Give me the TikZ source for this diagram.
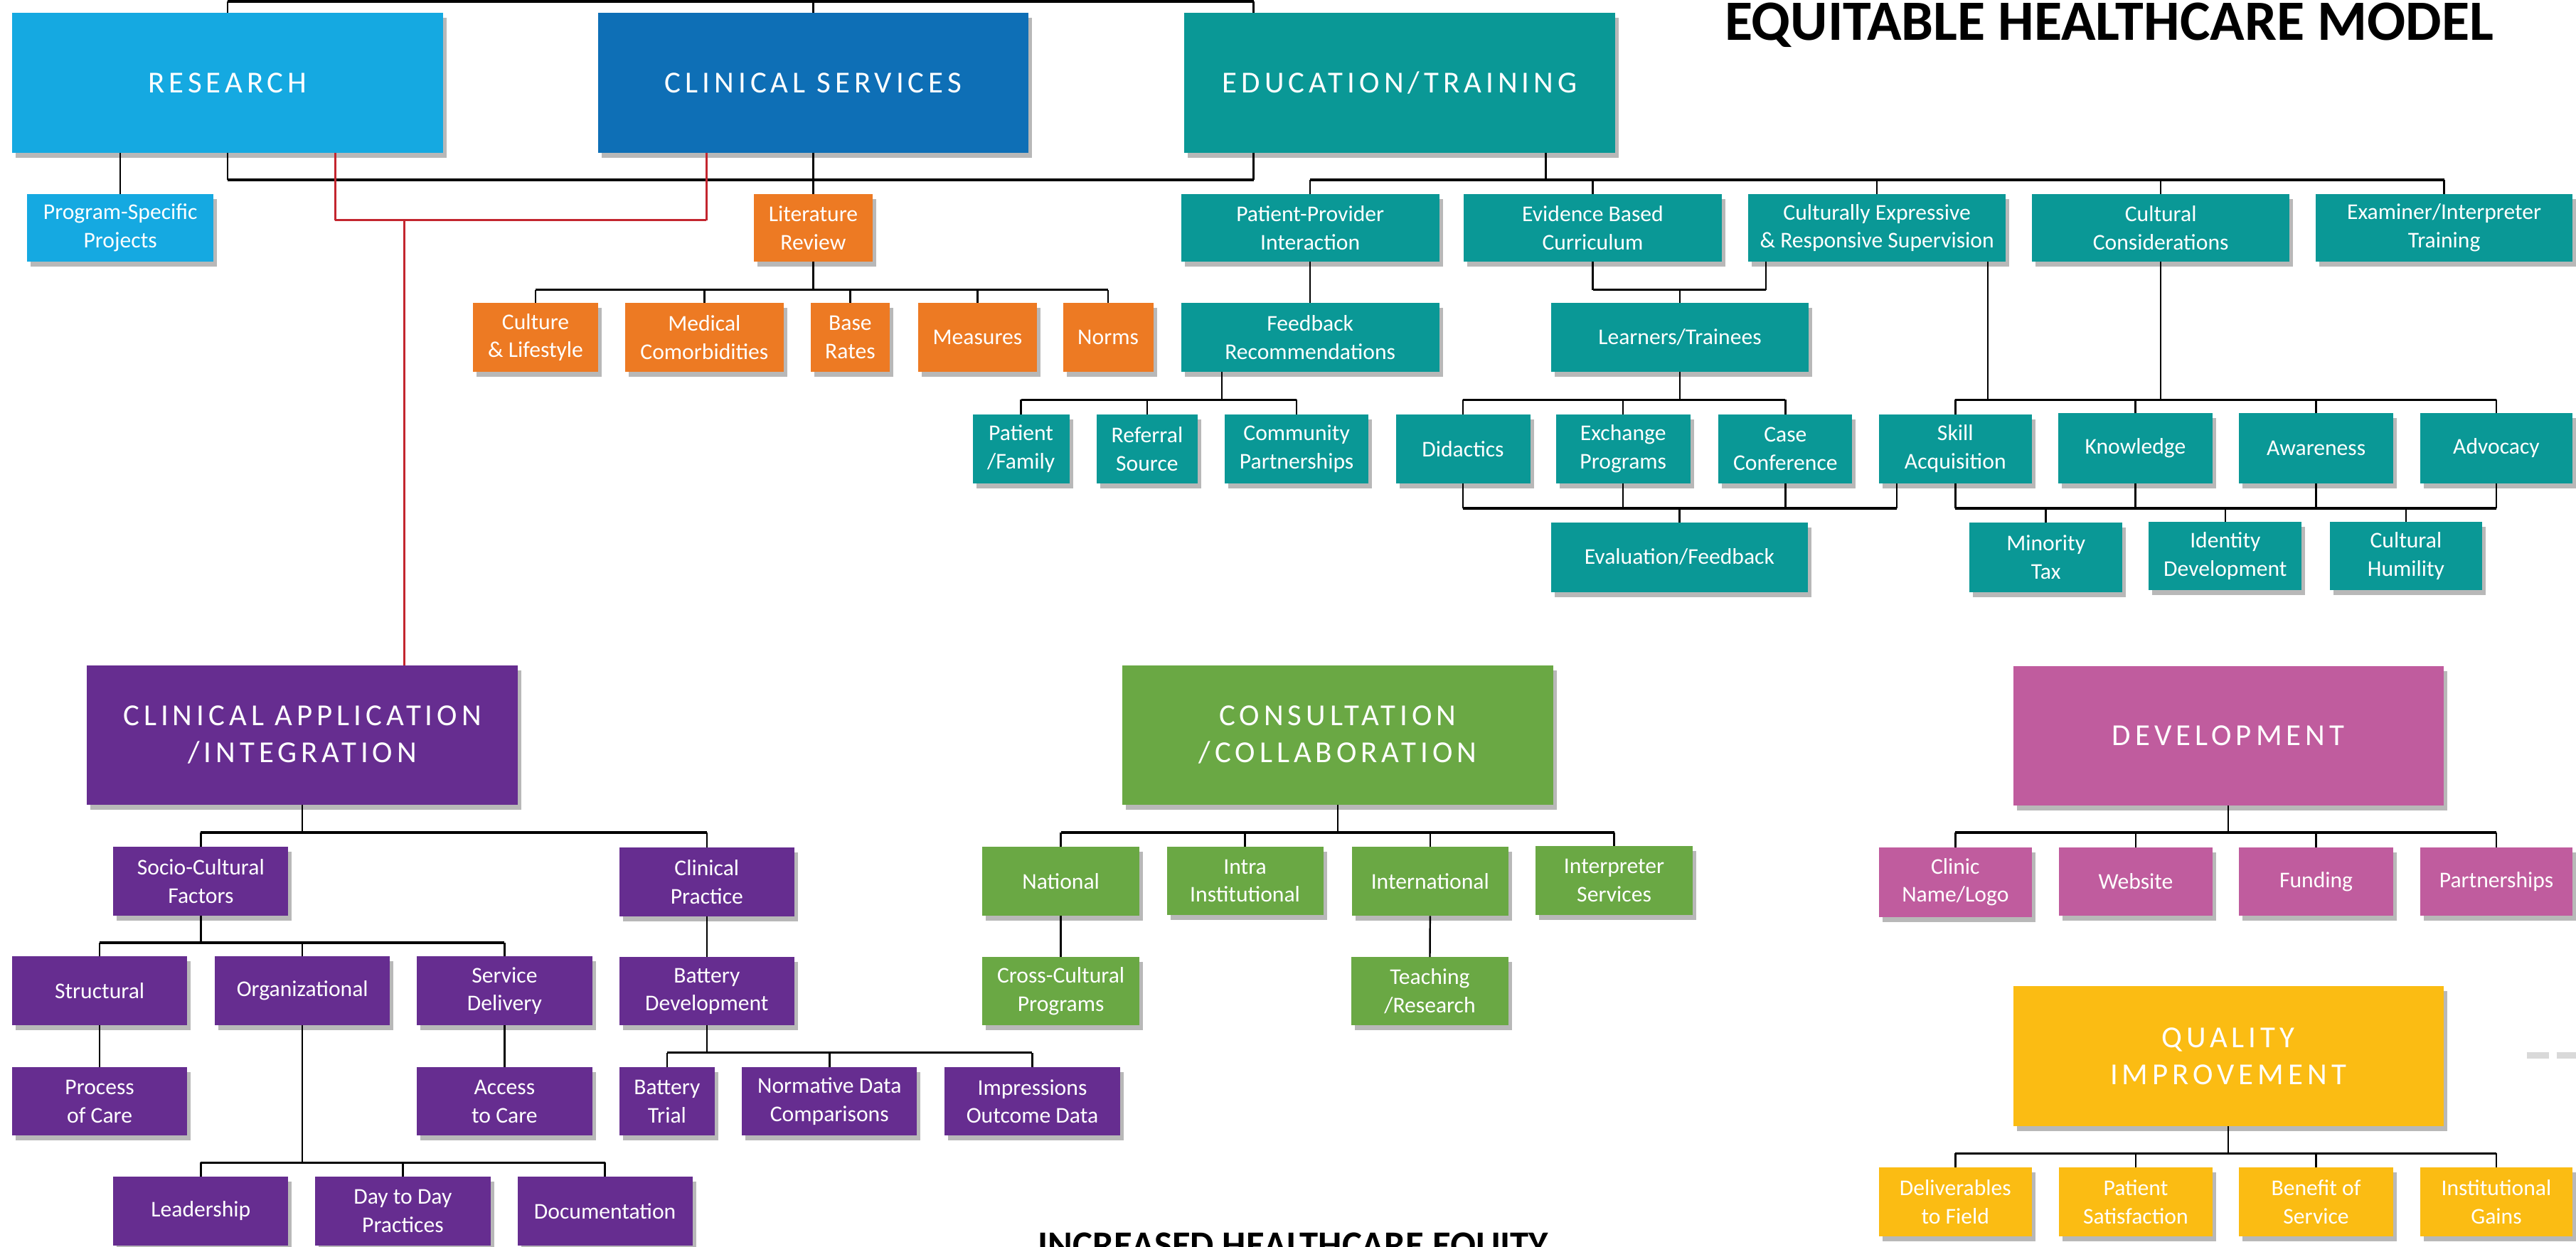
\documentclass[tikz,border=0pt]{standalone}
\usepackage{fontspec}
\setmainfont{Carlito}
\newfontfamily\capsfont[LetterSpace=14]{Carlito}
\usetikzlibrary{calc,shadows}
\definecolor{cRes}{HTML}{15A9E1}
\definecolor{cCS}{HTML}{0E6FB6}
\definecolor{cTeal}{HTML}{0A9896}
\definecolor{cOr}{HTML}{ED7A23}
\definecolor{cPur}{HTML}{662D90}
\definecolor{cGr}{HTML}{6AA844}
\definecolor{cPink}{HTML}{C05C9E}
\definecolor{cYel}{HTML}{FBBC13}
\definecolor{cRed}{HTML}{C3262F}
\definecolor{cDash}{HTML}{D9D9D9}
\newcommand\smallfnt{\fontsize{9}{11.3}\selectfont}
\newcommand\bigfnt{\capsfont\fontsize{12.2}{14.8}\selectfont}
\newcommand\bx[7]{%
  \pgfmathsetmacro\bxw{(#4-#2)*0.231}%
  \pgfmathsetmacro\bxh{(#5-#3)*0.231}%
  \node[#6, minimum width=\bxw mm, minimum height=\bxh mm] (#1) at ({(#2+#4)/2},{(#3+#5)/2}) {#7};}
\tikzset{
  bb/.style={inner sep=0pt, outer sep=0pt, text=white, align=center, font=\smallfnt,
    drop shadow={shadow xshift=0.5mm, shadow yshift=-0.7mm, fill=black, opacity=0.28}},
  big/.style={bb, font=\bigfnt},
  tl/.style={bb, fill=cTeal},
  ol/.style={bb, fill=cOr},
  pl/.style={bb, fill=cPur},
  gl/.style={bb, fill=cGr},
  kl/.style={bb, fill=cPink},
  yl/.style={bb, fill=cYel},
  ln/.style={draw=black, line width=0.7pt},
  busln/.style={draw=black, line width=1pt},
  redln/.style={draw=cRed, line width=0.8pt},
}
\begin{document}
\begin{tikzpicture}[x=0.231mm, y=-0.231mm]
\useasboundingbox (0,0) rectangle (1568,759);
\clip (0,0) rectangle (1568,759);
\fill[white] (0,0) rectangle (1568,759);

% ---------- title texts
\node[anchor=base, inner sep=0pt, font=\bfseries\fontsize{22.8}{27}\selectfont] (title) at (1283.8,24.4) {EQUITABLE HEALTHCARE MODEL};
\node[anchor=base, inner sep=0pt, font=\bfseries\fontsize{15}{18}\selectfont] (equity) at (787.2,765.8) {INCREASED HEALTHCARE EQUITY};

% ---------- top row
\bx{res}{7.5}{8}{269.5}{93}{big,fill=cRes}{RESEARCH}
\bx{cs}{364}{8}{626}{93}{big,fill=cCS}{CLINICAL SERVICES}
\bx{edu}{721}{8}{983}{93}{big,fill=cTeal}{EDUCATION/TRAINING}
\bx{psp}{16.5}{118}{130}{159.5}{bb,fill=cRes}{Program-Specific\\Projects}
\bx{lit}{459}{118}{531}{159.5}{ol}{Literature\\Review}
\bx{cul}{288}{184.5}{364}{226.5}{ol}{Culture\\\& Lifestyle}
\bx{med}{380.5}{184.5}{477}{226.5}{ol}{Medical\\Comorbidities}
\bx{bas}{493.5}{184.5}{541.5}{226.5}{ol}{Base\\Rates}
\bx{mea}{559}{184.5}{631}{226.5}{ol}{Measures}
\bx{nor}{647}{184.5}{702}{226.5}{ol}{Norms}
\bx{ppi}{719}{118}{876}{159.5}{tl}{Patient-Provider\\Interaction}
\bx{ebc}{891}{118}{1048}{159.5}{tl}{Evidence Based\\Curriculum}
\bx{ces}{1064}{118}{1221}{159.5}{tl}{Culturally Expressive\\\& Responsive Supervision}
\bx{cc}{1237}{118}{1393.5}{159.5}{tl}{Cultural\\Considerations}
\bx{eit}{1409.5}{118}{1566}{159.5}{tl}{Examiner/Interpreter\\Training}
\bx{fr}{719}{184.5}{876}{226.5}{tl}{Feedback\\Recommendations}
\bx{lt}{944}{184.5}{1101}{226.5}{tl}{Learners/Trainees}
\bx{pf}{592}{252.3}{651}{294.3}{tl}{Patient\\/Family}
\bx{rs}{667.5}{252.3}{729}{294.3}{tl}{Referral\\Source}
\bx{cp}{745.5}{252.3}{833}{294.3}{tl}{Community\\Partnerships}
\bx{did}{849.6}{252.3}{931.4}{294.5}{tl}{Didactics}
\bx{exq}{947}{252.3}{1029}{294.3}{tl}{Exchange\\Programs}
\bx{cas}{1046}{252.3}{1127.5}{294.3}{tl}{Case\\Conference}
\bx{ski}{1143.6}{252.3}{1236.8}{294.3}{tl}{Skill\\Acquisition}
\bx{kno}{1253}{251.6}{1346.6}{294.3}{tl}{Knowledge}
\bx{awa}{1363}{251.6}{1456.6}{294.3}{tl}{Awareness}
\bx{adv}{1473}{251.6}{1566}{294.3}{tl}{Advocacy}
\bx{ef}{944}{318}{1100.5}{360.5}{tl}{Evaluation/Feedback}
\bx{mt}{1198.7}{318}{1292}{360.5}{tl}{Minority\\Tax}
\bx{idd}{1308}{317.6}{1401}{359.5}{tl}{Identity\\Development}
\bx{ch}{1418}{317.6}{1511}{359.5}{tl}{Cultural\\Humility}

% ---------- purple
\bx{ca}{53}{405}{315}{490}{big,fill=cPur}{CLINICAL APPLICATION\\/INTEGRATION}
\bx{scf}{69}{515.6}{175.5}{557.8}{pl}{Socio-Cultural\\Factors}
\bx{clp}{377}{516}{483.5}{558}{pl}{Clinical\\Practice}
\bx{str}{7.3}{582.3}{114}{624.4}{pl}{Structural}
\bx{org}{130.8}{582.3}{237.4}{624.4}{pl}{Organizational}
\bx{sd}{253.8}{582.3}{360.4}{624.4}{pl}{Service\\Delivery}
\bx{bd}{377}{582.8}{483.5}{624.4}{pl}{Battery\\Development}
\bx{poc}{7.3}{649.8}{114}{691.5}{pl}{Process\\of Care}
\bx{atc}{253.8}{649.8}{360.4}{691.5}{pl}{Access\\to Care}
\bx{bt}{377}{649.8}{435}{691.5}{pl}{Battery\\Trial}
\bx{nd}{451.6}{649.8}{558.2}{691.5}{pl}{Normative Data\\Comparisons}
\bx{io}{575}{649.8}{681.7}{691.5}{pl}{Impressions\\Outcome Data}
\bx{lea}{69}{716.4}{175.5}{758.4}{pl}{Leadership}
\bx{dtd}{191.9}{716.4}{298.5}{758.4}{pl}{Day to Day\\Practices}
\bx{doc}{315}{716.4}{421.5}{758.4}{pl}{Documentation}

% ---------- green
\bx{con}{683.3}{405}{945.3}{490}{big,fill=cGr}{CONSULTATION\\/COLLABORATION}
\bx{nat}{598}{515.6}{693.5}{557.8}{gl}{National}
\bx{intra}{710.2}{515.6}{805.5}{557.2}{gl}{Intra\\Institutional}
\bx{intl}{822.8}{515.6}{918.2}{557.8}{gl}{International}
\bx{ints}{934.7}{515}{1030.3}{557.2}{gl}{Interpreter\\Services}
\bx{ccp}{598}{582.8}{693.5}{624.4}{gl}{Cross-Cultural\\Programs}
\bx{tr}{822.5}{582.8}{918.2}{624.4}{gl}{Teaching\\/Research}

% ---------- pink
\bx{dev}{1225.4}{405.6}{1487.3}{490.7}{big,fill=cPink}{DEVELOPMENT}
\bx{cnl}{1143.6}{516}{1236.8}{558.3}{kl}{Clinic\\Name/Logo}
\bx{web}{1253.4}{516}{1346.6}{557.6}{kl}{Website}
\bx{fun}{1363}{516}{1456.6}{557.6}{kl}{Funding}
\bx{par}{1473}{516}{1566}{557.6}{kl}{Partnerships}

% ---------- yellow
\bx{qi}{1225.4}{600.6}{1487.3}{685.7}{big,fill=cYel}{QUALITY\\IMPROVEMENT}
\bx{del}{1143.6}{711}{1236.8}{752.8}{yl}{Deliverables\\to Field}
\bx{psat}{1253.4}{711}{1346.6}{752.8}{yl}{Patient\\Satisfaction}
\bx{bos}{1363}{711}{1456.6}{752.8}{yl}{Benefit of\\Service}
\bx{ig}{1473}{711}{1566}{752.8}{yl}{Institutional\\Gains}

% ---------- helper coordinates
\coordinate (top) at (0,0.9);
\coordinate (bl) at (0,109.6);
\coordinate (eduT) at ($(edu.north west)+(42,0)$);
\coordinate (eduB) at ($(edu.south west)+(42,0)$);
\coordinate (eduM) at ($(edu.south west)+(220,0)$);
\coordinate (rA) at ($(res.south west)+(196.5,0)$);
\coordinate (rB) at ($(cs.south west)+(66,0)$);
\coordinate (rC) at ($(ca.north west)+(193,0)$);
\coordinate (rY) at (0,134);
\coordinate (bLit) at (0,176.5);
\coordinate (cesL) at ($(ces.south west)+(11,0)$);
\coordinate (cesR) at ($(ces.south west)+(146,0)$);
\coordinate (frB) at ($(fr.south west)+(24.7,0)$);
\coordinate (bRow) at (0,243.5);
\coordinate (bEv) at (0,309.5);
\coordinate (skiL) at ($(ski.south west)+(11,0)$);
\coordinate (bMid) at (0,507);
\coordinate (bScf) at (0,574);
\coordinate (bBd) at (0,641);
\coordinate (bOrg) at (0,708);
\coordinate (bQi) at (0,702.3);
\coordinate (dA) at (1538,642.5);
\coordinate (dB) at (1570,642.5);

% ---------- connectors: top three
\draw[ln] (res.north) -- (res.north |- top);
\draw[busln] (res.north |- top) -- (eduT |- top);
\draw[ln] (eduT |- top) -- (eduT);
\draw[ln] (cs.north) -- (cs.north |- top);
\draw[ln] (res.south) -- (res.south |- bl);
\draw[busln] (res.south |- bl) -- (eduB |- bl);
\draw[ln] (eduB |- bl) -- (eduB);
\draw[ln] (cs.south) -- (lit.north);
\draw[ln] (psp.north) -- (psp.north |- res.south);

% red
\draw[redln] (rA) -- (rA |- rY);
\draw[redln, line width=1.1pt] (rA |- rY) -- (rB |- rY);
\draw[redln] (rB |- rY) -- (rB);
\draw[redln] (rC |- rY) -- (rC);

% literature review
\draw[ln] (lit.south) -- (lit.south |- bLit);
\draw[busln] (cul.north |- bLit) -- (nor.north |- bLit);
\foreach \c in {cul,med,bas,mea,nor} \draw[ln] (\c.north) -- (\c.north |- bLit);

% education
\draw[ln] (eduM) -- (eduM |- bl);
\draw[busln] (ppi.north |- bl) -- (eit.north |- bl);
\foreach \c in {ppi,ebc,ces,cc,eit} \draw[ln] (\c.north) -- (\c.north |- bl);
\draw[ln] (ppi.south) -- (fr.north);
\draw[ln] (ebc.south) -- (ebc.south |- bLit);
\draw[busln] (ebc.south |- bLit) -- (cesL |- bLit);
\draw[ln] (cesL |- bLit) -- (cesL);
\draw[ln] (lt.north) -- (lt.north |- bLit);
% feedback
\draw[ln] (frB) -- (frB |- bRow);
\draw[busln] (pf.north |- bRow) -- (cp.north |- bRow);
\foreach \c in {pf,rs,cp} \draw[ln] (\c.north) -- (\c.north |- bRow);
% learners
\draw[ln] (lt.south) -- (lt.south |- bRow);
\draw[busln] (did.north |- bRow) -- (cas.north |- bRow);
\foreach \c in {did,exq,cas} \draw[ln] (\c.north) -- (\c.north |- bRow);
% skills
\draw[ln] (cesR) -- (cesR |- bRow);
\draw[ln] (cc.south) -- (cc.south |- bRow);
\draw[busln] (ski.north |- bRow) -- (adv.north |- bRow);
\foreach \c in {ski,kno,awa,adv} \draw[ln] (\c.north) -- (\c.north |- bRow);
% evaluation
\foreach \c in {did,exq,cas} \draw[ln] (\c.south) -- (\c.south |- bEv);
\draw[ln] (skiL) -- (skiL |- bEv);
\draw[busln] (did.south |- bEv) -- (skiL |- bEv);
\draw[ln] (ef.north) -- (ef.north |- bEv);
% skill bottom
\foreach \c in {ski,kno,awa,adv} \draw[ln] (\c.south) -- (\c.south |- bEv);
\draw[busln] (ski.south |- bEv) -- (adv.south |- bEv);
\foreach \c in {mt,idd,ch} \draw[ln] (\c.north) -- (\c.north |- bEv);

% clinical application
\draw[ln] (ca.south) -- (ca.south |- bMid);
\draw[busln] (scf.north |- bMid) -- (clp.north |- bMid);
\foreach \c in {scf,clp} \draw[ln] (\c.north) -- (\c.north |- bMid);
\draw[ln] (scf.south) -- (scf.south |- bScf);
\draw[busln] (str.north |- bScf) -- (sd.north |- bScf);
\foreach \c in {str,org,sd} \draw[ln] (\c.north) -- (\c.north |- bScf);
\draw[ln] (clp.south) -- (bd.north);
\draw[ln] (str.south) -- (poc.north);
\draw[ln] (sd.south) -- (atc.north);
\draw[ln] (bd.south) -- (bd.south |- bBd);
\draw[busln] (bt.north |- bBd) -- (io.north |- bBd);
\foreach \c in {bt,nd,io} \draw[ln] (\c.north) -- (\c.north |- bBd);
\draw[ln] (org.south) -- (org.south |- bOrg);
\draw[busln] (lea.north |- bOrg) -- (doc.north |- bOrg);
\foreach \c in {lea,dtd,doc} \draw[ln] (\c.north) -- (\c.north |- bOrg);

% consultation
\draw[ln] (con.south) -- (con.south |- bMid);
\draw[busln] (nat.north |- bMid) -- (ints.north |- bMid);
\foreach \c in {nat,intra,intl,ints} \draw[ln] (\c.north) -- (\c.north |- bMid);
\draw[ln] (nat.south) -- (ccp.north);
\draw[ln] (intl.south) -- (tr.north);

% development
\draw[ln] (dev.south) -- (dev.south |- bMid);
\draw[busln] (cnl.north |- bMid) -- (par.north |- bMid);
\foreach \c in {cnl,web,fun,par} \draw[ln] (\c.north) -- (\c.north |- bMid);

% quality improvement
\draw[ln] (qi.south) -- (qi.south |- bQi);
\draw[busln] (del.north |- bQi) -- (ig.north |- bQi);
\foreach \c in {del,psat,bos,ig} \draw[ln] (\c.north) -- (\c.north |- bQi);

% grey dashed stub
\draw[draw=cDash, line width=0.9mm, dash pattern=on 3.14mm off 1.06mm] (dA) -- (dB);
\end{tikzpicture}
\end{document}
